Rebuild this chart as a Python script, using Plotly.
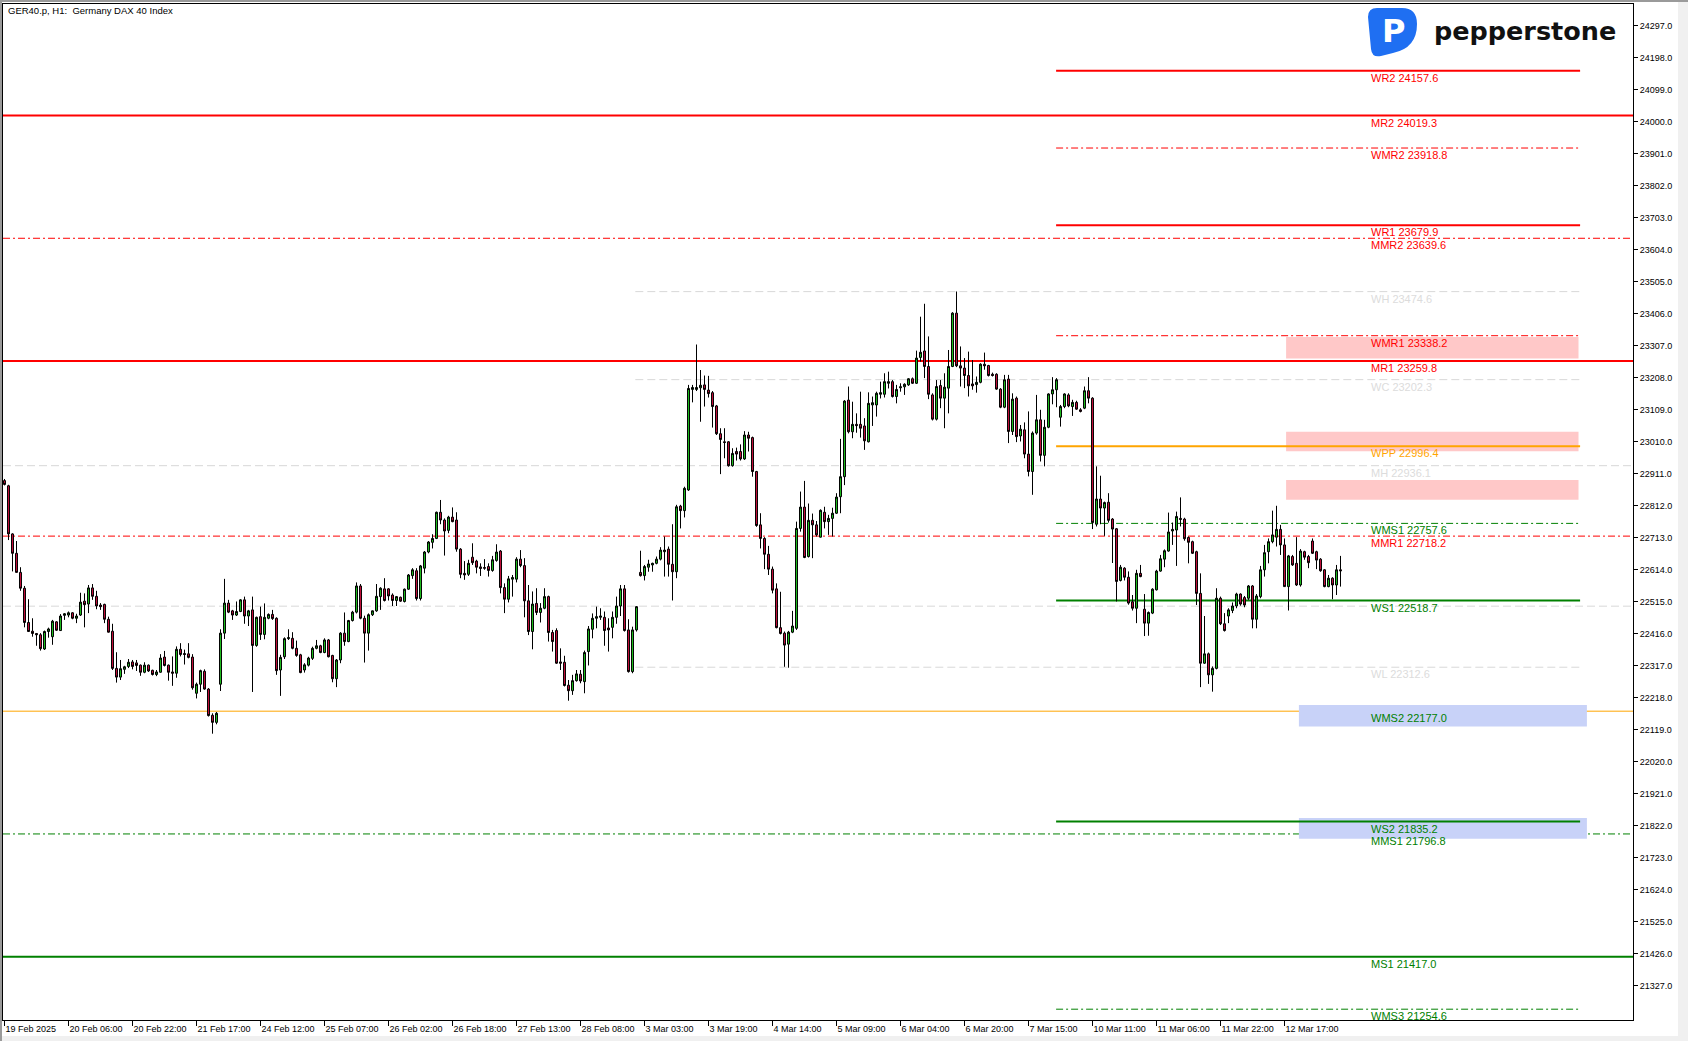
import plotly.graph_objects as go

# ---------------- data ----------------
bar_open = [
    22890, 22874, 22725, 22665, 22606, 22557, 22451, 22424, 22417, 22413,
    22369, 22423, 22407, 22453, 22426, 22473, 22474, 22481, 22464, 22474,
    22517, 22508, 22558, 22532, 22505, 22507, 22461, 22424, 22309, 22282,
    22306, 22315, 22329, 22326, 22319, 22297, 22319, 22303, 22290, 22297,
    22344, 22319, 22298, 22294, 22368, 22355, 22354, 22344, 22232, 22260,
    22300, 22245, 22164, 22142, 22260, 22418, 22511,
    22487, 22474, 22485, 22521, 22471, 22490, 22380, 22469, 22414, 22464,
    22476, 22464, 22304, 22345, 22401, 22402, 22371, 22351, 22304, 22319,
    22340, 22371, 22379, 22358, 22397, 22349, 22277, 22335, 22418, 22392,
    22457, 22483, 22564, 22464, 22418, 22475, 22487, 22531, 22555, 22555,
    22536, 22519, 22529, 22516, 22554, 22596, 22611, 22525, 22619, 22669,
    22699, 22711, 22792, 22768, 22736, 22777,
    22768, 22678, 22603, 22600, 22653, 22641, 22623, 22621, 22624, 22612,
    22643, 22672, 22559, 22523, 22585, 22585, 22647, 22627, 22518, 22423,
    22510, 22482, 22495, 22531, 22420, 22426, 22329, 22328, 22257, 22240,
    22271, 22291, 22268, 22361, 22430, 22464, 22467, 22467, 22434, 22436,
    22467, 22502, 22555, 22428, 22299, 22428, 22606, 22596, 22622, 22629,
    22634, 22647, 22670, 22678, 22631, 22608,
    22811, 22797, 22861, 23172, 23172, 23177, 23186, 23170, 23162, 23121,
    23035, 23010, 23010, 22936, 22980, 22980, 22957, 23031, 23023, 22918,
    22753, 22711, 22662, 22616, 22555, 22435, 22418, 22384, 22421, 22433,
    22742, 22808, 22655, 22767, 22753, 22715, 22792, 22763, 22773, 22789,
    22840, 22902, 23139, 23041, 23064, 23064, 23059, 23010, 23124, 23124,
    23157, 23157, 23191, 23196, 23150, 23177,
    23180, 23186, 23205, 23191, 23271, 23291, 23243, 23155, 23080, 23184,
    23145, 23176, 23243, 23408, 23245, 23238, 23215, 23189, 23187, 23194,
    23250, 23246, 23219, 23219, 23173, 23117, 23204, 23042, 23145, 23028,
    23047, 22972, 22918, 23037, 23078, 22968, 23055, 23158, 23171, 23086,
    23119, 23155, 23119, 23132, 23109, 23114, 23168, 23145, 22755, 22833,
    22805, 22823, 22771, 22741, 22581, 22619, 22591,
    22515, 22495, 22603, 22492, 22449, 22480, 22552, 22610, 22647, 22672,
    22734, 22737, 22773, 22771, 22714, 22701, 22670, 22541, 22325, 22354,
    22289, 22309, 22526, 22447, 22471, 22488, 22502, 22539, 22528, 22526,
    22564, 22461, 22531, 22614, 22670, 22701, 22715, 22739, 22691, 22562,
    22655, 22634, 22567, 22670, 22655, 22703, 22670, 22647, 22614, 22562,
    22588, 22567, 22614,
]
bar_high = [
    22895, 22877, 22727, 22703, 22622, 22564, 22523, 22464, 22418, 22418,
    22426, 22435, 22459, 22455, 22477, 22480, 22485, 22483, 22478, 22543,
    22541, 22567, 22570, 22549, 22511, 22509, 22469, 22447, 22359, 22335,
    22317, 22338, 22335, 22335, 22321, 22328, 22321, 22305, 22304, 22353,
    22363, 22321, 22346, 22377, 22387, 22367, 22387, 22353, 22265, 22305,
    22306, 22248, 22170, 22174, 22430, 22586, 22521,
    22490, 22516, 22523, 22531, 22490, 22531, 22469, 22500, 22510, 22479,
    22490, 22467, 22351, 22405, 22430, 22421, 22395, 22354, 22325, 22345,
    22376, 22397, 22382, 22402, 22400, 22351, 22338, 22421, 22482, 22459,
    22487, 22575, 22570, 22472, 22479, 22488, 22570, 22560, 22588, 22557,
    22541, 22533, 22531, 22556, 22601, 22619, 22619, 22629, 22672, 22703,
    22724, 22794, 22830, 22773, 22781, 22807,
    22792, 22681, 22641, 22645, 22696, 22645, 22634, 22647, 22634, 22657,
    22693, 22675, 22572, 22595, 22598, 22653, 22675, 22650, 22567, 22547,
    22557, 22511, 22557, 22534, 22428, 22433, 22371, 22348, 22273, 22289,
    22304, 22304, 22364, 22440, 22479, 22500, 22495, 22485, 22464, 22485,
    22531, 22567, 22567, 22461, 22438, 22502, 22673, 22629, 22645, 22636,
    22655, 22684, 22717, 22686, 22755, 22815,
    22815, 22871, 23186, 23186, 23311, 23232, 23215, 23214, 23167, 23124,
    23052, 23052, 23012, 22990, 22992, 23002, 23043, 23041, 23026, 22920,
    22789, 22715, 22688, 22624, 22572, 22546, 22423, 22425, 22487, 22763,
    22856, 22889, 22819, 22788, 22765, 22801, 22809, 22784, 22806, 22851,
    23019, 23139, 23181, 23134, 23098, 23165, 23083, 23163, 23150, 23165,
    23196, 23222, 23227, 23201, 23186, 23191,
    23191, 23207, 23209, 23292, 23397, 23437, 23336, 23160, 23201, 23201,
    23222, 23294, 23411, 23475, 23305, 23269, 23289, 23263, 23212, 23253,
    23286, 23248, 23224, 23222, 23176, 23217, 23217, 23160, 23150, 23062,
    23070, 23104, 23042, 23155, 23109, 23078, 23160, 23210, 23207, 23124,
    23160, 23160, 23140, 23137, 23114, 23181, 23210, 23148, 22934, 22905,
    22825, 22851, 22774, 22743, 22629, 22622, 22609,
    22536, 22614, 22629, 22539, 22485, 22557, 22614, 22660, 22677, 22791,
    22760, 22794, 22838, 22775, 22717, 22704, 22673, 22603, 22471, 22358,
    22315, 22557, 22531, 22480, 22495, 22513, 22543, 22541, 22533, 22567,
    22567, 22539, 22626, 22691, 22711, 22797, 22812, 22753, 22711, 22660,
    22660, 22715, 22678, 22673, 22660, 22711, 22673, 22650, 22616, 22598,
    22591, 22629, 22657,
]
bar_low = [
    22875, 22706, 22609, 22606, 22549, 22436, 22423, 22407, 22379, 22364,
    22366, 22404, 22382, 22425, 22425, 22459, 22467, 22461, 22449, 22471,
    22436, 22480, 22521, 22492, 22490, 22449, 22420, 22304, 22265, 22273,
    22292, 22310, 22306, 22301, 22286, 22294, 22298, 22287, 22285, 22296,
    22315, 22271, 22255, 22280, 22346, 22321, 22340, 22243, 22216, 22236,
    22243, 22160, 22107, 22136, 22239, 22400, 22480,
    22459, 22471, 22483, 22447, 22440, 22236, 22376, 22397, 22399, 22461,
    22459, 22289, 22224, 22338, 22397, 22368, 22345, 22294, 22296, 22315,
    22335, 22368, 22356, 22356, 22343, 22266, 22251, 22325, 22379, 22390,
    22454, 22479, 22461, 22327, 22364, 22471, 22484, 22490, 22516, 22519,
    22502, 22502, 22515, 22513, 22552, 22586, 22519, 22519, 22603, 22665,
    22680, 22709, 22755, 22658, 22727, 22761,
    22670, 22588, 22583, 22595, 22629, 22603, 22595, 22614, 22593, 22608,
    22639, 22541, 22480, 22513, 22531, 22575, 22622, 22467, 22412, 22368,
    22474, 22451, 22492, 22392, 22361, 22323, 22304, 22253, 22209, 22227,
    22268, 22263, 22232, 22318, 22402, 22433, 22459, 22379, 22361, 22402,
    22447, 22471, 22423, 22296, 22294, 22423, 22593, 22581, 22608, 22608,
    22631, 22643, 22593, 22593, 22519, 22588,
    22742, 22776, 22858, 23132, 23167, 23072, 23119, 23147, 23054, 23031,
    22910, 22959, 22933, 22933, 22952, 22952, 22954, 22980, 22902, 22747,
    22680, 22616, 22598, 22541, 22433, 22414, 22314, 22311, 22418, 22428,
    22732, 22650, 22652, 22650, 22717, 22714, 22742, 22722, 22717, 22787,
    22789, 22876, 23036, 23021, 23038, 23023, 22985, 23008, 23059, 23088,
    23144, 23147, 23175, 23147, 23129, 23165,
    23155, 23183, 23189, 23189, 23258, 23207, 23142, 23076, 23076, 23114,
    23052, 23098, 23241, 23241, 23181, 23176, 23150, 23171, 23162, 23191,
    23233, 23212, 23212, 23171, 23114, 23114, 23006, 23031, 23009, 23011,
    22959, 22903, 22846, 23032, 22949, 22934, 23052, 23126, 23117, 23057,
    23114, 23117, 23090, 23109, 23101, 23111, 23129, 22740, 22748, 22755,
    22719, 22760, 22635, 22516, 22578, 22581, 22506,
    22488, 22449, 22591, 22409, 22410, 22477, 22550, 22608, 22622, 22670,
    22691, 22626, 22748, 22704, 22634, 22663, 22505, 22251, 22323, 22261,
    22237, 22306, 22443, 22423, 22449, 22480, 22495, 22503, 22498, 22521,
    22433, 22433, 22526, 22593, 22634, 22696, 22686, 22660, 22562, 22488,
    22626, 22564, 22562, 22645, 22619, 22663, 22616, 22608, 22560, 22560,
    22523, 22536, 22562,
]
bar_close = [
    22878, 22725, 22665, 22606, 22557, 22451, 22423, 22417, 22413, 22370,
    22423, 22431, 22455, 22427, 22471, 22478, 22481, 22464, 22471, 22514,
    22506, 22558, 22532, 22502, 22500, 22461, 22421, 22309, 22282, 22308,
    22314, 22328, 22315, 22318, 22297, 22319, 22301, 22290, 22298, 22341,
    22318, 22297, 22294, 22368, 22352, 22352, 22343, 22249, 22260, 22302,
    22245, 22163, 22142, 22170, 22418, 22511, 22483,
    22474, 22485, 22521, 22471, 22487, 22380, 22467, 22414, 22467, 22476,
    22463, 22302, 22343, 22401, 22404, 22371, 22349, 22296, 22320, 22341,
    22371, 22379, 22358, 22397, 22345, 22277, 22335, 22418, 22392, 22457,
    22483, 22564, 22464, 22418, 22475, 22487, 22532, 22557, 22519, 22533,
    22519, 22531, 22517, 22554, 22598, 22614, 22525, 22626, 22669, 22700,
    22711, 22792, 22768, 22734, 22777, 22763,
    22678, 22600, 22598, 22634, 22636, 22622, 22618, 22619, 22612, 22645,
    22669, 22559, 22523, 22586, 22590, 22647, 22627, 22518, 22423, 22508,
    22482, 22495, 22531, 22420, 22392, 22325, 22325, 22256, 22240, 22271,
    22292, 22270, 22358, 22431, 22464, 22469, 22471, 22426, 22428, 22467,
    22502, 22555, 22426, 22299, 22428, 22500, 22596, 22624, 22632, 22634,
    22647, 22675, 22675, 22631, 22608, 22809,
    22797, 22866, 23175, 23178, 23178, 23185, 23172, 23159, 23119, 23035,
    23017, 23008, 22936, 22974, 22972, 22957, 23031, 23021, 22918, 22751,
    22711, 22662, 22616, 22551, 22435, 22417, 22381, 22421, 22440, 22742,
    22808, 22652, 22767, 22753, 22722, 22798, 22763, 22773, 22789, 22839,
    22902, 23136, 23041, 23064, 23060, 23052, 23013, 23129, 23131, 23160,
    23162, 23196, 23196, 23150, 23172, 23180,
    23188, 23205, 23191, 23269, 23287, 23243, 23157, 23080, 23181, 23145,
    23179, 23243, 23408, 23245, 23238, 23215, 23183, 23183, 23194, 23250,
    23245, 23215, 23215, 23173, 23117, 23202, 23042, 23142, 23026, 23049,
    22972, 22918, 23037, 23078, 22968, 23055, 23158, 23171, 23202, 23119,
    23158, 23121, 23132, 23111, 23104, 23168, 23145, 22760, 22833, 22805,
    22822, 22767, 22740, 22578, 22622, 22591, 22511,
    22495, 22603, 22593, 22449, 22482, 22554, 22610, 22648, 22673, 22731,
    22739, 22779, 22770, 22710, 22699, 22665, 22541, 22325, 22354, 22289,
    22309, 22526, 22447, 22426, 22490, 22502, 22539, 22508, 22505, 22564,
    22461, 22533, 22614, 22667, 22701, 22722, 22739, 22691, 22562, 22657,
    22629, 22567, 22672, 22653, 22636, 22665, 22644, 22611, 22562, 22588,
    22567, 22614, 22611,
]

x_tick_bars = [0, 16, 32, 48, 64, 80, 96, 112, 128, 144, 160, 176, 192, 208,
               224, 240, 256, 272, 288, 304, 320]
x_tick_labels = ["19 Feb 2025", "20 Feb 06:00", "20 Feb 22:00", "21 Feb 17:00",
                 "24 Feb 12:00", "25 Feb 07:00", "26 Feb 02:00", "26 Feb 18:00",
                 "27 Feb 13:00", "28 Feb 08:00", "3 Mar 03:00", "3 Mar 19:00",
                 "4 Mar 14:00", "5 Mar 09:00", "6 Mar 04:00", "6 Mar 20:00",
                 "7 Mar 15:00", "10 Mar 11:00", "11 Mar 06:00", "11 Mar 22:00",
                 "12 Mar 17:00"]
y_tick_values = [21327.0, 21426.0, 21525.0, 21624.0, 21723.0, 21822.0, 21921.0,
                 22020.0, 22119.0, 22218.0, 22317.0, 22416.0, 22515.0, 22614.0,
                 22713.0, 22812.0, 22911.0, 23010.0, 23109.0, 23208.0, 23307.0,
                 23406.0, 23505.0, 23604.0, 23703.0, 23802.0, 23901.0, 24000.0,
                 24099.0, 24198.0, 24297.0]

weekly_names = ["WR2", "WMR2", "WR1", "WMR1", "WPP", "WMS1", "WS1", "WMS2", "WS2", "WMS3"]
weekly_values = [24157.6, 23918.8, 23679.9, 23338.2, 22996.4, 22757.6, 22518.7,
                 22177.0, 21835.2, 21254.6]
monthly_names = ["MR2", "MMR2", "MR1", "MMR1", "MPP", "MMS1", "MS1"]
monthly_values = [24019.3, 23639.6, 23259.8, 22718.2, 22176.6, 21796.8, 21417.0]
prev_week_names = ["WH", "WC", "WL"]
prev_week_values = [23474.6, 23202.3, 22312.6]
prev_month_names = ["MH", "MC"]
prev_month_values = [22936.1, 22501.5]

pink_zone_low = [23268, 22981, 22831]
pink_zone_high = [23334, 23041, 22892]
blue_zone_low = [22129, 21782]
blue_zone_high = [22196, 21846]

# ---------------- geometry ----------------
W, H = 1688, 1041
PL, PR, PT, PB = 3, 1633, 4, 1020
X_RANGE = [-0.375, 407.125]
Y_RANGE = [21221.2, 24364.4]
FONT = "Liberation Sans, Arial, sans-serif"

assert len(bar_open) == len(bar_high) == len(bar_low) == len(bar_close)


def pxx(p):
    return (p - PL) / (PR - PL)


def pxy(p):
    return (PB - p) / (PB - PT)


bar_index = list(range(len(bar_open)))

fig = go.Figure()
fig.add_trace(go.Candlestick(
    x=bar_index, open=bar_open, high=bar_high, low=bar_low, close=bar_close,
    increasing=dict(fillcolor="#1fc31f", line=dict(color="black", width=1)),
    decreasing=dict(fillcolor="#c8103c", line=dict(color="black", width=1)),
    whiskerwidth=0, showlegend=False, hoverinfo="skip",
))

RED, GREEN, ORANGE, GRAY = "#ff0000", "#008000", "#ffa500", "#d8d8d8"
DASHDOT = "7px,3px,2px,3px"
DASH = "8px,4px"

style = {
    "WR2": (RED, 2, "solid"), "WMR2": (RED, 1, DASHDOT), "WR1": (RED, 2, "solid"),
    "WMR1": (RED, 1, DASHDOT), "WPP": (ORANGE, 2, "solid"), "WMS1": (GREEN, 1, DASHDOT),
    "WS1": (GREEN, 2, "solid"), "WMS2": (GREEN, 1, DASHDOT), "WS2": (GREEN, 2, "solid"),
    "WMS3": (GREEN, 1, DASHDOT),
    "MR2": (RED, 2, "solid"), "MMR2": (RED, 1, DASHDOT), "MR1": (RED, 2, "solid"),
    "MMR1": (RED, 1, DASHDOT), "MPP": (ORANGE, 1, "solid"), "MMS1": (GREEN, 1, DASHDOT),
    "MS1": (GREEN, 2, "solid"),
}

# zones (background)
for lo, hi in zip(pink_zone_low, pink_zone_high):
    fig.add_shape(type="rect", xref="x", yref="y", x0=320.4, x1=393.5, y0=lo, y1=hi,
                  fillcolor="#ffc8c8", line_width=0, layer="below")
for lo, hi in zip(blue_zone_low, blue_zone_high):
    fig.add_shape(type="rect", xref="x", yref="y", x0=323.6, x1=395.6, y0=lo, y1=hi,
                  fillcolor="#c8d2f8", line_width=0, layer="below")

# gray previous-period lines
for v in prev_month_values:
    fig.add_shape(type="line", xref="paper", yref="y", x0=0, x1=1, y0=v, y1=v,
                  line=dict(color=GRAY, width=1, dash=DASH), layer="below")
for v in prev_week_values:
    fig.add_shape(type="line", xref="x", yref="y", x0=157.7, x1=394.4, y0=v, y1=v,
                  line=dict(color=GRAY, width=1, dash=DASH), layer="below")

# monthly lines (full width)
for n, v in zip(monthly_names, monthly_values):
    c, w, d = style[n]
    fig.add_shape(type="line", xref="paper", yref="y", x0=0, x1=1, y0=v, y1=v,
                  line=dict(color=c, width=w, dash=d), layer="below")
# weekly lines
for n, v in zip(weekly_names, weekly_values):
    if n == "WMS2":
        continue
    c, w, d = style[n]
    fig.add_shape(type="line", xref="x", yref="y", x0=262.9, x1=393.9, y0=v, y1=v,
                  line=dict(color=c, width=w, dash=d), layer="below")

LABEL_X = 341.2
label_font = dict(family=FONT, size=11)


def add_label(name, value, color):
    fig.add_annotation(x=LABEL_X, y=value, xref="x", yref="y", xanchor="left",
                       yanchor="top", yshift=1, showarrow=False,
                       text=f"{name} {value:.1f}",
                       font=dict(label_font, color=color))


for n, v in zip(prev_week_names, prev_week_values):
    add_label(n, v, "#dcdcdc")
add_label(prev_month_names[0], prev_month_values[0], "#dcdcdc")
for n, v in zip(monthly_names, monthly_values):
    if n == "MPP":
        continue
    add_label(n, v, style[n][0])
for n, v in zip(weekly_names, weekly_values):
    add_label(n, v, style[n][0])

# title
fig.add_annotation(xref="paper", yref="paper", x=pxx(6), y=pxy(11), xanchor="left",
                   yanchor="middle", showarrow=False,
                   text="GER40.p, H1:  Germany DAX 40 Index",
                   font=dict(family=FONT, size=9.5, color="black"))

# logo
path = (f"M {pxx(1368)},{pxy(17)} Q {pxx(1368)},{pxy(8)} {pxx(1377)},{pxy(8)} "
        f"L {pxx(1402)},{pxy(8)} Q {pxx(1417)},{pxy(8)} {pxx(1417)},{pxy(24)} "
        f"Q {pxx(1417)},{pxy(48)} {pxx(1393)},{pxy(53)} "
        f"L {pxx(1381)},{pxy(56)} Q {pxx(1372)},{pxy(58)} {pxx(1371)},{pxy(49)} Z")
fig.add_shape(type="path", xref="paper", yref="paper", path=path,
              fillcolor="#1f6ff2", line_width=0, layer="above")
fig.add_annotation(xref="paper", yref="paper", x=pxx(1393), y=pxy(31), xanchor="center",
                   yanchor="middle", showarrow=False, text="<b>P</b>",
                   font=dict(family="DejaVu Sans", size=32, color="white"))
fig.add_annotation(xref="paper", yref="paper", x=pxx(1432), y=pxy(31), xanchor="left",
                   yanchor="middle", showarrow=False, text="<b>pepperstone</b>",
                   font=dict(family="DejaVu Sans", size=25.5, color="#111111"))

# window border strips
fig.add_shape(type="rect", xref="paper", yref="paper", x0=pxx(0), x1=pxx(2), y0=pxy(0), y1=pxy(H),
              fillcolor="#9a9a9a", line_width=0)
fig.add_shape(type="rect", xref="paper", yref="paper", x0=pxx(0), x1=pxx(W), y0=pxy(0), y1=pxy(2),
              fillcolor="#9a9a9a", line_width=0)
fig.add_shape(type="rect", xref="paper", yref="paper", x0=pxx(1678), x1=pxx(W), y0=pxy(2), y1=pxy(H),
              fillcolor="#f0f0f0", line_width=0)
fig.add_shape(type="rect", xref="paper", yref="paper", x0=pxx(2), x1=pxx(W), y0=pxy(1036), y1=pxy(H),
              fillcolor="#f0f0f0", line_width=0)

fig.update_layout(
    width=W, height=H,
    margin=dict(l=PL, r=W - PR, t=PT, b=H - PB, pad=0),
    paper_bgcolor="white", plot_bgcolor="white",
    showlegend=False, hovermode=False,
    boxgap=0.3,
    font=dict(family=FONT, size=9, color="black"),
)
fig.update_xaxes(
    range=X_RANGE, rangeslider_visible=False, showgrid=False, zeroline=False,
    showline=True, linecolor="black", linewidth=1, mirror=True,
    tickmode="array", tickvals=x_tick_bars, ticktext=x_tick_labels,
    ticks="outside", ticklen=5, tickcolor="black", tickwidth=1,
    ticklabelposition="outside right", tickfont=dict(family=FONT, size=9, color="black"),
    automargin=False, fixedrange=True,
)
fig.update_yaxes(
    range=Y_RANGE, side="right", showgrid=False, zeroline=False,
    showline=True, linecolor="black", linewidth=1, mirror=True,
    tickmode="array", tickvals=y_tick_values,
    ticktext=[f"{v:.1f}" for v in y_tick_values],
    ticks="outside", ticklen=4, tickcolor="black", tickwidth=1,
    tickfont=dict(family=FONT, size=9, color="black"),
    automargin=False, fixedrange=True,
)

fig.write_html("out.html", config={"displayModeBar": False},
               post_script="document.body.style.margin='0';document.body.style.overflow='hidden';")
